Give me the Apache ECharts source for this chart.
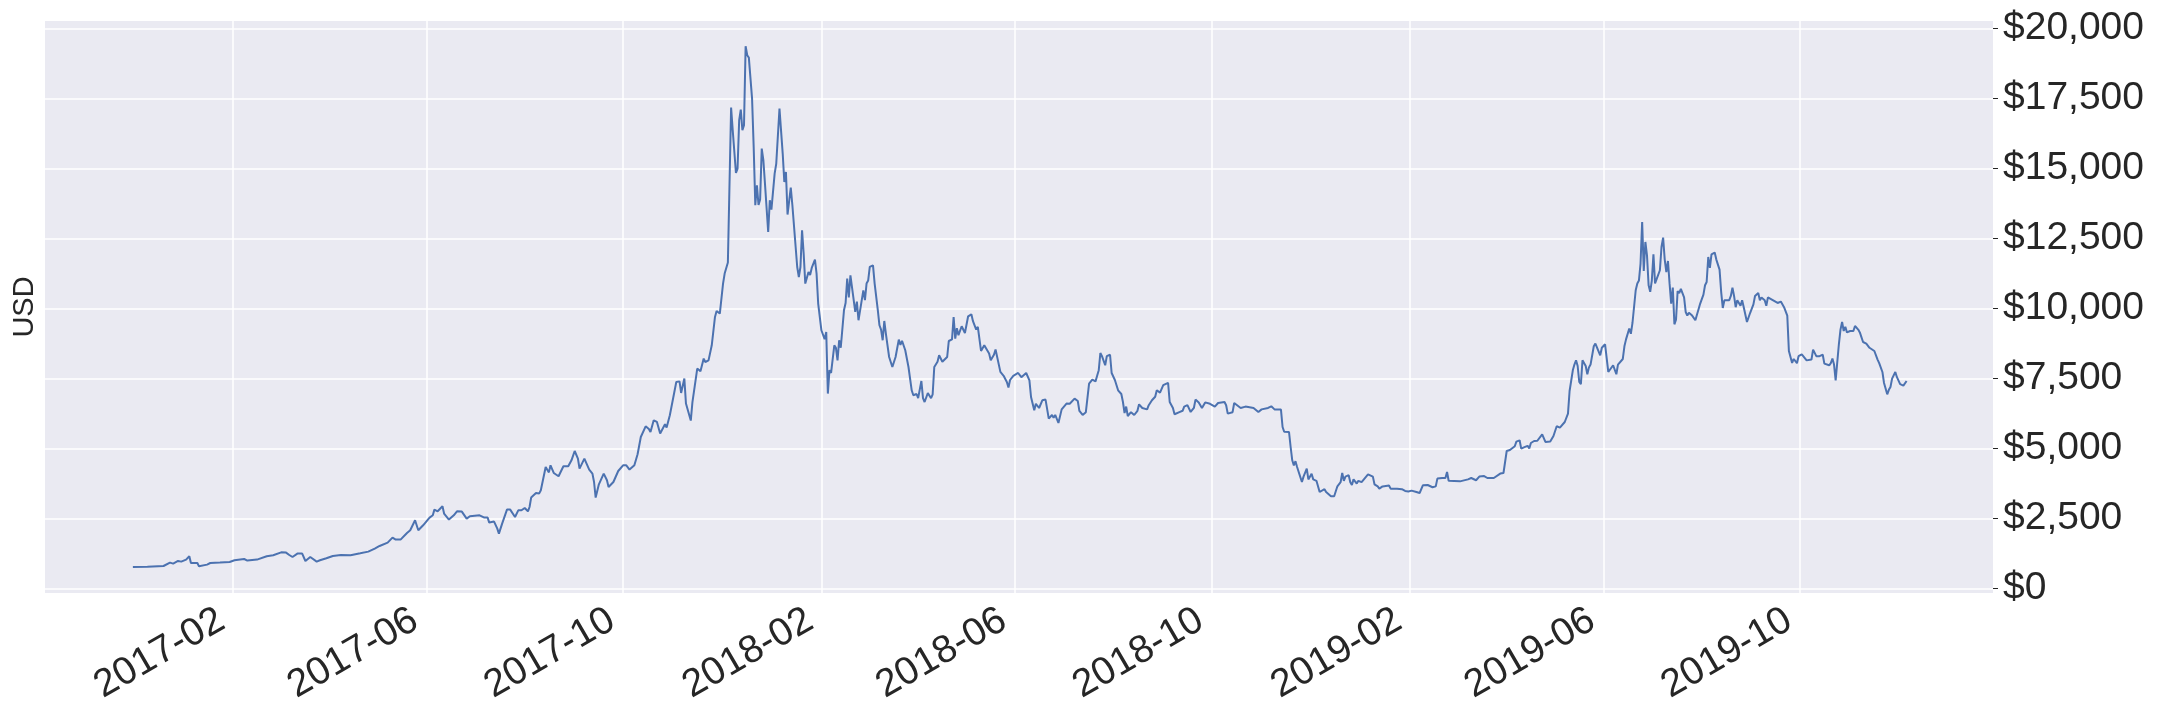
<!DOCTYPE html>
<html>
<head>
<meta charset="utf-8">
<script src="https://cdn.jsdelivr.net/npm/echarts@6/dist/echarts.min.js"></script>
<style>
  html, body { margin: 0; padding: 0; background: #ffffff; }
  #chart { width: 2160px; height: 720px; }
</style>
</head>
<body>
<div id="chart"></div>
<script>
// ---- Data (daily BTC close, USD) ----
const days2016 = ['12-01','12-10','12-20','12-24','12-26','12-29','12-31'];
const usd2016  = [771,780,807,928,893,986,964];

const days2017 = ['01-03','01-05','01-06','01-10','01-11','01-16','01-18','01-24','01-30','02-02','02-08','02-10','02-16','02-22','02-26',
'03-03','03-06','03-08','03-10','03-13','03-16','03-18','03-21','03-25','03-27','03-31','04-04','04-09','04-15','04-21','04-26','04-30',
'05-03','05-08','05-11','05-13','05-14','05-16','05-20','05-22','05-25','05-27','05-30','06-03','06-05','06-06','06-08','06-11','06-12',
'06-15','06-18','06-20','06-23','06-26','06-28','07-04','07-07','07-09','07-10','07-13','07-15','07-16','07-18','07-21','07-22','07-23',
'07-26','07-28','07-30','08-01','08-03','08-04','08-05','08-08','08-10','08-11','08-14','08-16','08-17','08-19','08-22','08-25','08-28',
'08-30','09-01','09-03','09-04','09-07','09-10','09-12','09-13','09-14','09-16','09-17','09-19','09-21','09-22','09-25','09-26','09-28',
'09-29','10-01','10-03','10-05','10-08','10-10','10-11','10-12','10-15','10-17','10-18','10-20','10-22','10-24','10-27','10-28','10-30',
'11-03','11-05','11-06','11-08','11-09','11-10','11-12','11-13','11-16','11-18','11-20','11-21','11-23','11-25','11-27','11-28','11-30',
'12-02','12-03','12-05','12-06','12-07','12-08','12-10','12-11','12-12','12-13','12-14','12-15','12-16','12-17','12-18','12-20','12-21',
'12-22','12-23','12-24','12-25','12-26','12-27','12-28','12-29','12-30','12-31'];
const usd2017  = [1036,1153,914,914,796,857,914,928,950,1011,1057,1000,1036,1153,1189,
1296,1286,1200,1129,1250,1250,986,1129,964,1011,1082,1165,1200,1190,1261,1321,1429,
1522,1643,1821,1750,1800,1750,1986,2082,2439,2082,2261,2536,2618,2821,2760,2939,2679,
2464,2618,2761,2750,2500,2586,2618,2536,2536,2357,2393,2143,1964,2321,2821,2761,2821,
2557,2796,2796,2879,2761,2914,3250,3414,3400,3511,4343,4150,4404,4129,4011,4368,4368,
4582,4914,4643,4286,4643,4250,4107,3807,3250,3725,3750,4107,3868,3629,3807,3850,4200,
4200,4404,4404,4250,4404,4796,4850,5414,5796,5700,5593,6011,5950,5536,5868,5750,6189,
7379,7400,6986,7500,6607,6546,6000,6650,7857,7760,8214,8093,8150,8689,9700,9914,9821,
10893,11250,11643,11700,17179,16368,14843,15000,16725,17107,16368,16546,19368,19046,18964,17500,15771,
13689,14400,13700,13900,15714,15300,14464,14500,12736,13868];

const days2018 = ['01-01','01-03','01-04','01-06','01-07','01-08','01-09','01-10','01-11','01-13','01-14','01-15','01-17','01-18','01-19',
'01-20','01-21','01-22','01-23','01-24','01-25','01-26','01-28','01-29','01-30','01-31','02-01','02-03','02-04','02-05','02-06','02-07',
'02-09','02-10','02-11','02-12','02-13','02-15','02-16','02-17','02-18','02-19','02-20','02-22','02-23','02-24','02-27','02-28','03-01',
'03-02','03-03','03-05','03-06','03-08','03-09','03-10','03-11','03-12','03-13','03-15','03-16','03-17','03-19','03-21','03-22','03-23',
'03-25','03-27','03-28','03-29','03-30','04-01','04-02','04-04','04-05','04-06','04-08','04-10','04-11','04-12','04-14','04-15','04-17',
'04-20','04-21','04-23','04-24','04-25','04-26','04-27','04-29','05-01','05-03','05-05','05-06','05-08','05-09','05-11','05-13','05-14',
'05-16','05-17','05-19','05-20','05-23','05-25','05-27','05-28','05-29','05-31','06-03','06-05','06-08','06-09','06-10','06-11','06-12',
'06-13','06-14','06-16','06-18','06-20','06-21','06-22','06-24','06-25','06-26','06-28','06-30','07-01','07-03','07-05','07-08','07-10',
'07-11','07-13','07-15','07-17','07-19','07-21','07-22','07-23','07-24','07-25','07-27','07-28','07-30','07-31','08-02','08-04','08-06',
'08-07','08-08','08-09','08-10','08-12','08-14','08-16','08-17','08-19','08-20','08-22','08-23','08-25','08-27','08-28','08-30','09-01',
'09-04','09-05','09-07','09-08','09-11','09-13','09-14','09-16','09-18','09-20','09-21','09-23','09-25','09-27','09-30','10-03','10-05',
'10-09','10-10','10-11','10-14','10-15','10-19','10-22','10-27','10-30','11-01','11-05','11-07','11-09','11-13','11-14','11-15','11-18',
'11-19','11-20','11-21','11-22','11-23','11-26','11-27','11-29','11-30','12-02','12-03','12-05','12-07','12-08','12-10','12-11','12-12',
'12-14','12-16','12-18','12-20','12-21','12-22','12-23','12-25','12-26','12-27','12-28','12-30','12-31'];
const usd2018  = [13536,14821,15179,17143,17200,15536,14521,14879,13357,14321,13689,13654,11486,11129,11486,
12796,11964,10893,10850,11307,11200,11450,11750,11250,10179,10200,9225,8904,9164,6964,7800,7700,
8689,8600,8150,8868,8600,9939,10200,11071,10400,11189,11250,9879,10250,9582,10650,10300,10893,
11000,11486,11546,10900,9939,9404,9250,8868,9557,9100,8271,8250,7914,8271,8893,8700,8850,
8511,7914,7950,7082,6904,6950,6800,7414,6800,6664,6986,6800,6939,7914,8100,8332,8100,
8271,8843,8900,9700,8929,9300,9050,9368,9129,9725,9796,9550,9250,9350,8486,8689,8700,
8393,8154,8350,8536,7739,7600,7379,7179,7450,7600,7700,7550,7700,7650,7439,6843,6850,
6368,6600,6450,6725,6750,6700,6071,6200,6100,6200,5914,6400,6400,6607,6600,6786,6700,
6343,6200,6300,7321,7464,7400,7600,7800,8414,8300,7975,8300,8350,7700,7450,7082,6950,
6664,6271,6500,6164,6300,6200,6350,6582,6450,6500,6400,6550,6725,6850,7082,7000,7264,
7350,6664,6450,6225,6300,6350,6500,6550,6307,6450,6750,6650,6450,6650,6600,6500,6629,
6664,6550,6250,6300,6629,6450,6500,6450,6307,6400,6450,6511,6400,6393,5771,5600,5593,
5057,4582,4400,4550,4343,3807,4000,4286,3900,4100,3900,3850,3450,3400,3550,3450,3500,
3300,3300,3654,3800,4129,3850,4000,4050,3800,3700,3900,3750,3850];

const days2019 = ['01-02','01-03','01-06','01-09','01-10','01-12','01-13','01-15','01-19','01-20','01-24','01-27','01-29','01-31','02-02',
'02-05','02-07','02-09','02-12','02-15','02-17','02-18','02-21','02-23','02-24','02-25','02-26','03-04','03-05','03-09','03-11','03-14',
'03-16','03-19','03-21','03-25','03-26','03-29','03-31','04-02','04-04','04-07','04-08','04-10','04-11','04-13','04-15','04-16','04-17',
'04-19','04-21','04-24','04-26','04-27','04-29','05-01','05-03','05-05','05-08','05-10','05-11','05-12','05-13','05-14','05-15','05-16',
'05-17','05-18','05-19','05-21','05-22','05-23','05-24','05-26','05-27','05-28','05-30','05-31','06-02','06-04','06-05','06-07','06-09',
'06-10','06-11','06-13','06-14','06-15','06-17','06-18','06-19','06-21','06-22','06-23','06-24','06-25','06-26','06-27','06-28','06-29',
'06-30','07-01','07-02','07-03','07-04','07-06','07-07','07-08','07-09','07-10','07-11','07-12','07-13','07-14','07-15','07-16','07-17',
'07-18','07-19','07-21','07-22','07-23','07-24','07-26','07-28','07-29','07-31','08-02','08-03','08-04','08-05','08-06','08-07','08-09',
'08-10','08-12','08-13','08-14','08-15','08-18','08-19','08-20','08-21','08-22','08-23','08-25','08-26','08-27','08-29','08-31','09-02',
'09-03','09-05','09-06','09-07','09-09','09-10','09-11','09-12','09-14','09-17','09-19','09-21','09-22','09-23','09-24','09-25','09-26',
'09-27','09-29','09-30','10-02','10-05','10-08','10-09','10-10','10-11','10-13','10-15','10-16','10-17','10-19','10-20','10-21','10-22',
'10-23','10-24','10-25','10-26','10-27','10-28','10-29','10-30','11-01','11-02','11-03','11-04','11-06','11-07','11-09','11-11','11-12',
'11-13','11-16','11-18','11-19','11-21','11-22','11-23','11-24','11-25','11-26','11-27','11-28','11-29','11-30','12-02','12-04','12-05',
'12-06'];
const usd2019  = [3800,3750,4082,4000,3725,3650,3571,3650,3680,3570,3570,3550,3486,3470,3500,
3450,3414,3689,3700,3620,3650,3929,3950,3950,4164,3850,3850,3830,3900,3900,3950,3870,
4000,4020,3950,3950,4020,4107,4129,4914,4950,5082,5250,5296,5000,5050,5100,5000,5200,
5271,5280,5511,5236,5300,5250,5450,5796,5750,5950,6250,7057,7000,7796,8000,8154,7950,
7379,7300,8154,7950,7650,7900,8000,8654,8750,8700,8332,8600,8725,7736,7800,7975,7654,
8000,8000,8200,8654,8900,9286,9100,9486,10654,10893,11000,11607,13093,11343,12379,11900,10832,
10600,11000,11939,10900,10850,11368,12200,12536,11750,11300,11700,10900,10179,10750,9439,9600,10629,
10550,10700,10400,9879,9750,9850,9750,9582,9550,10179,10500,10832,10950,11843,11450,11939,12000,
11750,11393,10600,10021,10300,10300,10450,10750,10450,10050,10300,10100,10300,10050,9521,9850,10150,
10450,10557,10300,10400,10300,10100,10400,10393,10300,10200,10250,10050,10000,9750,8486,8450,8057,
8200,8050,8300,8368,8150,8180,8536,8540,8300,8300,8350,8036,8100,7975,8050,8214,8000,
7439,7400,8725,9250,9521,9200,9350,9150,9200,9250,9200,9379,9250,9150,8807,8750,8780,
8600,8486,8179,8050,7736,7343,7300,6939,7100,7200,7500,7450,7736,7550,7300,7250,7200,
7414];

const yTicks = [0, 2500, 5000, 7500, 10000, 12500, 15000, 17500, 20000];
const xTickMonths = ['2017-02','2017-06','2017-10','2018-02','2018-06','2018-10','2019-02','2019-06','2019-10'];
const yLabel = 'USD';

// ---- Build series ----
function toTs(str) {
  const p = str.split('-').map(Number);
  return new Date(p[0], p[1] - 1, p[2] || 1).getTime();
}
const seriesData = [];
[[2016, days2016, usd2016], [2017, days2017, usd2017], [2018, days2018, usd2018], [2019, days2019, usd2019]]
  .forEach(function (g) {
    g[1].forEach(function (md, i) { seriesData.push([toTs(g[0] + '-' + md), g[2][i]]); });
  });
const xTicks = xTickMonths.map(function (m) { return toTs(m + '-01'); });

const FONT = '"Liberation Sans", Arial, Helvetica, sans-serif';
const TEXT = '#262626';

const chart = echarts.init(document.getElementById('chart'), null, { renderer: 'canvas' });
chart.setOption({
  animation: false,
  backgroundColor: '#ffffff',
  grid: {
    left: 45, right: 167, top: 21, bottom: 127,
    show: true, backgroundColor: '#EAEAF2', borderWidth: 0
  },
  xAxis: {
    type: 'value',
    min: new Date(2016, 9, 7, 12).getTime(),
    max: new Date(2020, 0, 28, 14).getTime(),
    axisLine: { show: false },
    axisTick: { show: false, customValues: xTicks },
    axisLabel: {
      customValues: xTicks,
      rotate: 30,
      margin: 18,
      padding: [0, 13, 0, 0],
      fontSize: 39,
      fontFamily: FONT,
      color: TEXT,
      formatter: function (v) {
        const d = new Date(v);
        const m = d.getMonth() + 1;
        return d.getFullYear() + '-' + (m < 10 ? '0' + m : m);
      }
    },
    splitLine: { show: true, lineStyle: { color: '#ffffff', width: 1.5 } }
  },
  yAxis: {
    type: 'value',
    position: 'right',
    min: -157,
    max: 20270,
    axisLine: { show: false },
    axisTick: { show: true, length: 5, customValues: yTicks, lineStyle: { color: TEXT, width: 1 } },
    axisLabel: {
      customValues: yTicks,
      margin: 10,
      fontSize: 39,
      fontFamily: FONT,
      color: TEXT,
      formatter: function (v) { return '$' + Number(v).toLocaleString('en-US'); }
    },
    splitLine: { show: true, lineStyle: { color: '#ffffff', width: 1.5 } }
  },
  graphic: [{
    type: 'text',
    x: 25, y: 307,
    rotation: Math.PI / 2,
    style: {
      text: yLabel,
      fontSize: 29,
      fontFamily: FONT,
      fill: TEXT,
      align: 'center',
      verticalAlign: 'middle'
    }
  }],
  series: [{
    type: 'line',
    data: seriesData,
    showSymbol: false,
    symbol: 'none',
    lineStyle: { color: '#4C72B0', width: 2 },
    itemStyle: { color: '#4C72B0' }
  }]
});
</script>
</body>
</html>
